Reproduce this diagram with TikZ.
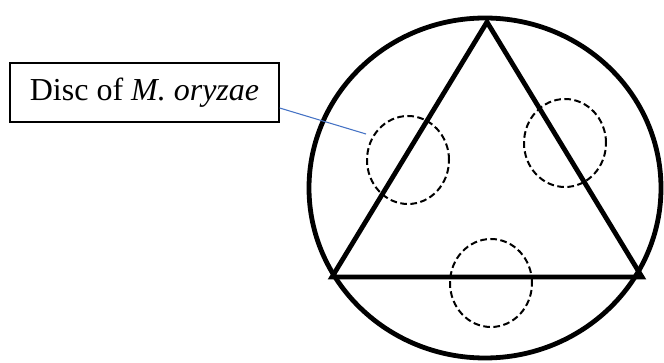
\documentclass[tikz,border=0pt]{standalone}
\usepackage{fontspec}
\setmainfont{Liberation Serif}
\usetikzlibrary{shapes.geometric,calc}
\definecolor{Pointer}{HTML}{4472C4}

\begin{document}
\begin{tikzpicture}[x=.75pt,y=-.75pt,
    plate/.style={line width=3.6pt},
    disc/.style={ellipse,draw,line width=1.5pt,dash pattern=on 5pt off 2.6pt,
      minimum width=61.5pt,minimum height=66pt,inner sep=0pt}]
    \useasboundingbox (0,0) rectangle (664,363);
    % plate and triangle
    \draw[plate] (485,188) ellipse [x radius=176,y radius=170];
    \coordinate (apex) at (487,22);
    \coordinate (left) at (332,277);
    \coordinate (right) at (642,277);
    \draw[plate,line join=miter] (apex) -- (left) -- (right) -- cycle;
    % discs
    \node[disc] (discL) at (408,160) {};
    \node[disc] (discR) at (565,143) {};
    \node[disc] (discB) at (491,283) {};
    % label
    \node[draw,line width=1pt,minimum width=201.75pt,minimum height=44.25pt,
      inner sep=0pt,font=\fontsize{24}{28}\selectfont] (label) at (144.5,92.5)
      {Disc of \textit{M.\ oryzae}};
    \coordinate (tip) at (366,134);
    \draw[Pointer,line width=.8pt] ($(label.east)+(0,15.5)$) -- (tip);
  \end{tikzpicture}
\end{document}
